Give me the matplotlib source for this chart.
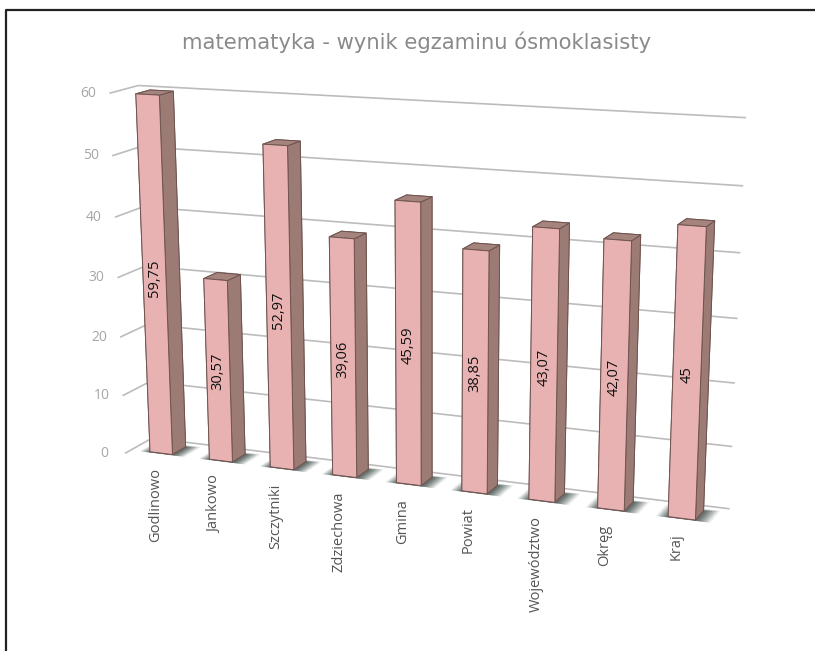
import numpy as np
import matplotlib
matplotlib.use("Agg")
import matplotlib.pyplot as plt
from matplotlib.lines import Line2D
from mpl_toolkits.mplot3d.art3d import Poly3DCollection, Line3DCollection

title = "matematyka - wynik egzaminu ósmoklasisty"
categories = ["Godlinowo", "Jankowo", "Szczytniki", "Zdziechowa", "Gmina",
              "Powiat", "Województwo", "Okręg", "Kraj"]
values = [59.75, 30.57, 52.97, 39.06, 45.59, 38.85, 43.07, 42.07, 45]
value_labels = ["59,75", "30,57", "52,97", "39,06", "45,59", "38,85", "43,07", "42,07", "45"]
y_ticks = [0, 10, 20, 30, 40, 50, 60]

W, H = 815, 651
HALF = 0.19          # half bar width in category units
WALL_Y = 1.5         # back wall depth (bar occupies depth 0..1)
FRONT_Y = -0.5       # front end of the side wall

# Camera calibration: world (category, depth, value) -> reference pixel
calib = [
    ((-HALF, 0, 59.75), (136, 95)), ((HALF, 0, 59.75), (160, 97)), ((HALF, 1, 59.75), (175, 91)),
    ((-HALF, 0, 0), (150, 449)), ((HALF, 0, 0), (174, 453)), ((HALF, 1, 0), (187, 446)),
    ((2 - HALF, 0, 52.97), (263, 144)), ((2 + HALF, 0, 52.97), (289, 146)), ((2 + HALF, 1, 52.97), (301, 141)),
    ((2 - HALF, 0, 0), (270, 465)), ((2 + HALF, 0, 0), (295, 469)), ((2 + HALF, 1, 0), (307, 462)),
    ((8 - HALF, 0, 45), (678, 225)), ((8 + HALF, 0, 45), (706, 227)), ((8 + HALF, 1, 45), (715, 221)),
    ((8 - HALF, 0, 0), (668, 517)), ((8 + HALF, 0, 0), (696, 522)), ((8 + HALF, 1, 0), (703, 513)),
    ((7 - HALF, 0, 42.07), (603, 238)), ((7 + HALF, 0, 42.07), (632, 240)), ((7 + HALF, 1, 42.07), (640, 235)),
    ((7 - HALF, 0, 0), (597, 508)), ((7 + HALF, 0, 0), (625, 511)), ((7 + HALF, 1, 0), (634, 502)),
    ((-0.5, WALL_Y, 60), (137, 85)), ((8.5, WALL_Y, 60), (746, 116)),
    ((8.5, WALL_Y, 0), (728, 507)), ((-0.5, WALL_Y, 0), (150, 441)),
    ((-0.5, FRONT_Y, 60), (107, 93)), ((-0.5, FRONT_Y, 0), (123, 455)),
]


def fit_camera(pairs):
    A, b = [], []
    for (X, Y, Z), (u, v) in pairs:
        Z = Z / 60.0
        A.append([X, Y, Z, 1, 0, 0, 0, 0, -u * X, -u * Y, -u * Z]); b.append(u)
        A.append([0, 0, 0, 0, X, Y, Z, 1, -v * X, -v * Y, -v * Z]); b.append(v)
    p = np.linalg.lstsq(np.array(A, float), np.array(b, float), rcond=None)[0]
    C = np.append(p, 1.0).reshape(3, 4)
    C[:, 2] /= 60.0
    return C


P = fit_camera(calib)


def project(x, y, z):
    """World point to pixel position (y down)."""
    q = P @ np.array([x, y, z, 1.0])
    return q[0] / q[2], q[1] / q[2]


fig = plt.figure(figsize=(W / 100, H / 100), dpi=100, facecolor="white")
ax = fig.add_axes([0, 0, 1, 1], projection="3d", computed_zorder=False)
ax.set_axis_off()
ax.apply_aspect = lambda position=None: None


def get_proj():
    inv = ax.transData.inverted()
    o = inv.transform((0, H))       # pixel (0,0), y down
    e = inv.transform((1, H - 1))   # pixel (1,1)
    sx, sy = e[0] - o[0], e[1] - o[1]
    r1 = sx * P[0] + o[0] * P[2]
    r2 = sy * P[1] + o[1] * P[2]
    r3 = np.array([-0.1, 1.0, -0.01, 0.0])
    return np.vstack([r1, r2, r3, P[2]])


ax.get_proj = get_proj


def label(u, v, s, **kw):
    ax.text2D(u / W, 1 - v / H, s, transform=ax.transAxes, family="Open Sans", **kw)


# gridlines on side wall and back wall, with value ticks
segments = []
for t in y_ticks:
    segments.append([(-0.5, FRONT_Y, t), (-0.5, WALL_Y, t)])
    segments.append([(-0.5, WALL_Y, t), (8.5, WALL_Y, t)])
    u, v = project(-0.5, FRONT_Y, t)
    label(u - 21, v, str(t), color="#a6a6a6", fontsize=10, ha="center", va="center")
ax.add_collection3d(Line3DCollection(segments, colors="#bcbcbc", linewidths=1.2, zorder=1))

# bars with floor shadows
for i, v in enumerate(values):
    for pad, a in [(0.17, 0.10), (0.145, 0.14), (0.12, 0.18), (0.09, 0.22), (0.06, 0.26), (0.03, 0.3)]:
        x0, x1 = i - HALF - pad, i + HALF + pad * 1.15
        y0, y1 = -pad * 0.2, 1 + pad * 1.2
        ax.add_collection3d(Poly3DCollection(
            [[(x0, y0, 0), (x1, y0, 0), (x1, y1, 0), (x0, y1, 0)]],
            facecolor=(0.22, 0.28, 0.26, a), edgecolor=(0.22, 0.28, 0.26, a * 0.5),
            linewidth=0.3, zorder=2))
    ax.bar3d(i - HALF, 0, 0, 2 * HALF, 1, v, shade=False,
             color=["#8a6d68", "#a4847c", "#e9b2b2", "#8a6d68", "#8a6d68", "#9c7b75"],
             edgecolor="#6f5450", linewidth=0.7, zorder=3)
    u, w = project(i, 0, v / 2)
    label(u, w, value_labels[i], rotation=90, color="#111111", fontsize=10.5,
          ha="center", va="center", zorder=5)
    u, w = project(i, 0, 0)
    label(u - 6, w + 15, categories[i], rotation=90, color="#555555", fontsize=10.5,
          ha="center", va="top", zorder=5)

fig.text(417 / W, 1 - 42 / H, title, color="#8a8a8a", fontsize=15.2,
         ha="center", va="center", family="DejaVu Sans")

# frame of the pasted screenshot
fig.add_artist(Line2D([6 / W, 6 / W, 1], [0, 1 - 10 / H, 1 - 10 / H],
                      transform=fig.transFigure, color="#222222", lw=1.6))

fig.savefig("out.png", dpi=100, facecolor="white")
